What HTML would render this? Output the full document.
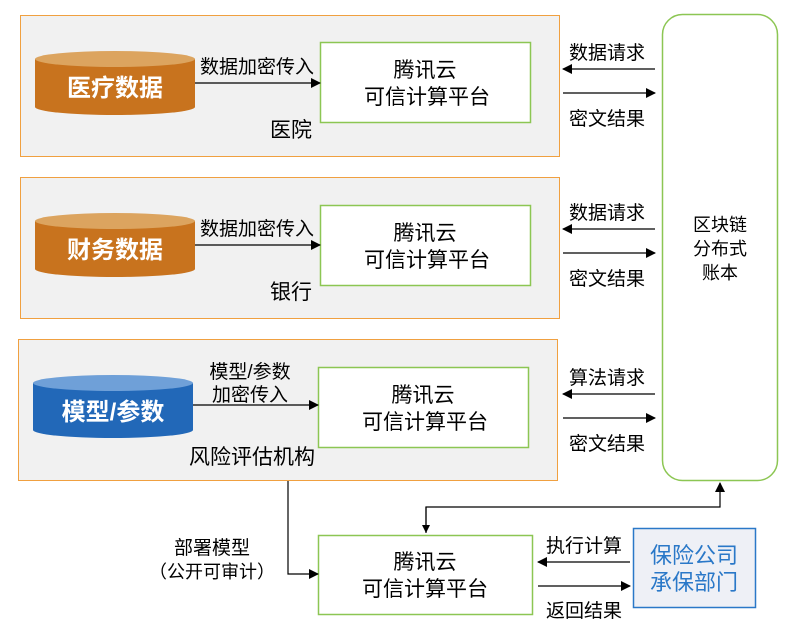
<!DOCTYPE html>
<html><head><meta charset="utf-8"><style>
html,body{margin:0;padding:0;background:#fff;}
svg{display:block;font-family:"Liberation Sans","Noto Sans CJK SC",sans-serif;}
</style></head><body>
<svg width="792" height="636" viewBox="0 0 792 636" xmlns="http://www.w3.org/2000/svg">
<defs>
<marker id="a" markerWidth="10" markerHeight="10" refX="9" refY="5" orient="auto" markerUnits="userSpaceOnUse"><path d="M0,0 L10,5 L0,10 z" fill="#000"/></marker>
<marker id="s" markerWidth="8" markerHeight="8" refX="7" refY="4" orient="auto" markerUnits="userSpaceOnUse"><path d="M0,0 L8,4 L0,8 z" fill="#000"/></marker>
</defs>
<rect x="20.5" y="15.5" width="539" height="141" fill="#f1f1f1" stroke="#f0a040"/>
<rect x="20.5" y="177.5" width="539" height="141" fill="#f1f1f1" stroke="#f0a040"/>
<rect x="18.5" y="339.5" width="539" height="141" fill="#f1f1f1" stroke="#f0a040"/>
<rect x="662.5" y="14.5" width="115" height="466" rx="20" fill="#fff" stroke="#8cc653" stroke-width="1.5"/>
<text x="720" y="231" font-size="18" text-anchor="middle">区块链</text>
<text x="720" y="255" font-size="18" text-anchor="middle">分布式</text>
<text x="720" y="279" font-size="18" text-anchor="middle">账本</text>
<g>
<path d="M35,59 L35,107 A80,8 0 0 0 195,107 L195,59 Z" fill="#c8731e"/>
<ellipse cx="115" cy="59" rx="80" ry="8" fill="#dca45f"/>
<text x="115" y="96" font-size="24" font-weight="bold" fill="#fff" text-anchor="middle">医疗数据</text>
</g>
<g>
<path d="M35,221 L35,269 A80,8 0 0 0 195,269 L195,221 Z" fill="#c8731e"/>
<ellipse cx="115" cy="221" rx="80" ry="8" fill="#dca45f"/>
<text x="115" y="258" font-size="24" font-weight="bold" fill="#fff" text-anchor="middle">财务数据</text>
</g>
<g>
<path d="M33,383 L33,430 A80,8 0 0 0 193,430 L193,383 Z" fill="#2268b8"/>
<ellipse cx="113" cy="383" rx="80" ry="8" fill="#6fa0d8"/>
<text x="113" y="420" font-size="24" font-weight="bold" fill="#fff" text-anchor="middle">模型/参数</text>
</g>
<g font-size="21" text-anchor="middle">
<rect x="320.5" y="42.5" width="210" height="80" fill="#fff" stroke="#8cc653" stroke-width="1.5"/>
<text x="425" y="77">腾讯云</text><text x="427" y="104">可信计算平台</text>
<rect x="320.5" y="205.5" width="210" height="80" fill="#fff" stroke="#8cc653" stroke-width="1.5"/>
<text x="425" y="240">腾讯云</text><text x="427" y="267">可信计算平台</text>
<rect x="318.5" y="367.5" width="210" height="80" fill="#fff" stroke="#8cc653" stroke-width="1.5"/>
<text x="423" y="402">腾讯云</text><text x="425" y="429">可信计算平台</text>
<rect x="318.5" y="535.5" width="214" height="79" fill="#fff" stroke="#8cc653" stroke-width="1.5"/>
<text x="425" y="569">腾讯云</text><text x="425" y="596">可信计算平台</text>
</g>
<rect x="633.5" y="528.5" width="122" height="79" fill="#eef0f6" stroke="#2a78c8" stroke-width="1.5"/>
<text x="694" y="563" font-size="22" fill="#2a78c8" text-anchor="middle">保险公司</text>
<text x="694" y="590" font-size="22" fill="#2a78c8" text-anchor="middle">承保部门</text>
<g stroke="#000" stroke-width="1.2" fill="none">
<line x1="195" y1="83" x2="320" y2="83" marker-end="url(#a)"/>
<line x1="195" y1="245" x2="320" y2="245" marker-end="url(#a)"/>
<line x1="193" y1="405" x2="318" y2="405" marker-end="url(#a)"/>
<line x1="655" y1="69" x2="563" y2="69" marker-end="url(#a)"/>
<line x1="563" y1="93" x2="655" y2="93" marker-end="url(#a)"/>
<line x1="655" y1="229" x2="563" y2="229" marker-end="url(#a)"/>
<line x1="563" y1="253" x2="655" y2="253" marker-end="url(#a)"/>
<line x1="655" y1="394" x2="563" y2="394" marker-end="url(#a)"/>
<line x1="563" y1="418" x2="655" y2="418" marker-end="url(#a)"/>
<line x1="630" y1="562" x2="538" y2="562" marker-end="url(#a)"/>
<line x1="538" y1="586" x2="630" y2="586" marker-end="url(#a)"/>
<polyline points="288,481 288,574 318,574" marker-end="url(#a)"/>
<polyline points="426,533 426,507 720,507 720,483" marker-end="url(#a)"/>
<line x1="426" y1="507" x2="426" y2="532" marker-end="url(#s)"/>
</g>
<g font-size="19" text-anchor="middle">
<text x="257" y="73">数据加密传入</text>
<text x="257" y="235">数据加密传入</text>
<text x="250" y="378">模型/参数</text>
<text x="250" y="401">加密传入</text>
<text x="607" y="59">数据请求</text>
<text x="607" y="125">密文结果</text>
<text x="607" y="219">数据请求</text>
<text x="607" y="285">密文结果</text>
<text x="607" y="384">算法请求</text>
<text x="607" y="450">密文结果</text>
<text x="584" y="552">执行计算</text>
<text x="584" y="617">返回结果</text>
<text x="291" y="137" font-size="21">医院</text>
<text x="291" y="299" font-size="21">银行</text>
<text x="252" y="464" font-size="21">风险评估机构</text>
<text x="212" y="554">部署模型</text>
<text x="212" y="578" font-size="18">（公开可审计）</text>
</g>
</svg>
</body></html>
